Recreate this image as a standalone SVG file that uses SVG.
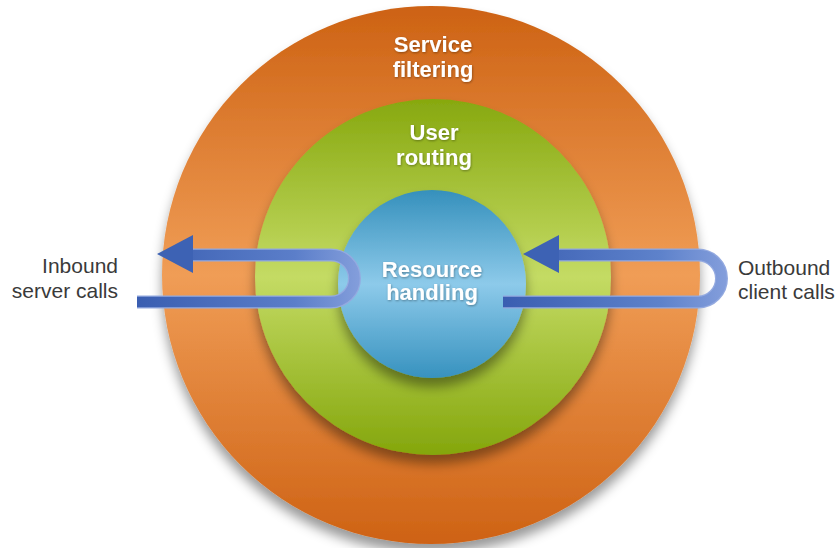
<svg xmlns="http://www.w3.org/2000/svg" width="840" height="548" viewBox="0 0 840 548">
  <defs>
    <linearGradient id="gOrange" x1="0" y1="0" x2="0" y2="1">
      <stop offset="0" stop-color="#CD6213"/>
      <stop offset="0.5" stop-color="#F09D56"/>
      <stop offset="1" stop-color="#CE6214"/>
    </linearGradient>
    <linearGradient id="gGreen" x1="0" y1="0" x2="0" y2="1">
      <stop offset="0" stop-color="#87A80F"/>
      <stop offset="0.5" stop-color="#C4DB64"/>
      <stop offset="1" stop-color="#84A60C"/>
    </linearGradient>
    <linearGradient id="gBlue" x1="0" y1="0" x2="0" y2="1">
      <stop offset="0" stop-color="#3590BC"/>
      <stop offset="0.5" stop-color="#8DCAEA"/>
      <stop offset="1" stop-color="#3792BF"/>
    </linearGradient>
    <linearGradient id="gArrowL" gradientUnits="userSpaceOnUse" x1="137" y1="0" x2="362" y2="0">
      <stop offset="0" stop-color="#3A5EB1"/>
      <stop offset="0.7" stop-color="#5B7EC9"/>
      <stop offset="1" stop-color="#859FDC"/>
    </linearGradient>
    <linearGradient id="gArrowR" gradientUnits="userSpaceOnUse" x1="503" y1="0" x2="729" y2="0">
      <stop offset="0" stop-color="#3A5EB1"/>
      <stop offset="0.7" stop-color="#5E82CB"/>
      <stop offset="1" stop-color="#859FDC"/>
    </linearGradient>
    <filter id="shadow" x="-20%" y="-20%" width="140%" height="150%">
      <feDropShadow dx="0" dy="9" stdDeviation="6" flood-color="#000" flood-opacity="0.4"/>
    </filter>
    <filter id="tshadow" x="-10%" y="-30%" width="120%" height="160%">
      <feDropShadow dx="0.6" dy="1" stdDeviation="0.8" flood-color="#000" flood-opacity="0.35"/>
    </filter>
  </defs>
  <style>
    .title { font-family: "Liberation Sans", Arial, sans-serif; font-weight: bold; font-size: 22px; fill: #ffffff; text-anchor: middle; }
    .label { font-family: "Liberation Sans", Arial, sans-serif; font-size: 21px; fill: #3a3a3a; }
    .band-edge { fill: none; stroke: #94AAE0; stroke-width: 13; }
    .head { fill: #3D62B4; }
  </style>

  <g id="node-service-filtering">
    <circle cx="431" cy="275" r="269" fill="url(#gOrange)" filter="url(#shadow)"/>
    <text class="title" x="433" y="52" filter="url(#tshadow)">Service</text>
    <text class="title" x="433" y="77" filter="url(#tshadow)">filtering</text>
  </g>

  <g id="node-user-routing">
    <circle cx="433" cy="277" r="178" fill="url(#gGreen)" filter="url(#shadow)"/>
    <text class="title" x="434" y="140" filter="url(#tshadow)">User</text>
    <text class="title" x="434" y="165" filter="url(#tshadow)">routing</text>
  </g>

  <g id="node-resource-handling">
    <circle cx="432" cy="284" r="94" fill="url(#gBlue)" filter="url(#shadow)"/>
    <text class="title" x="432" y="277" filter="url(#tshadow)">Resource</text>
    <text class="title" x="432" y="300" filter="url(#tshadow)">handling</text>
  </g>

  <g id="connectors">
    <g id="inbound-server-calls">
      <path class="band-edge" d="M137,302 H331 A23.5,23.5 0 0 0 331,255 H190"/>
      <path d="M137,302 H331 A23.5,23.5 0 0 0 331,255 H190" fill="none" stroke="url(#gArrowL)" stroke-width="10.5"/>
      <polygon class="head" points="157,254 193,235 193,273"/>
    </g>
    <g id="outbound-client-calls">
      <path class="band-edge" d="M503,302 H698 A23.5,23.5 0 0 0 698,255 H556"/>
      <path d="M503,302 H698 A23.5,23.5 0 0 0 698,255 H556" fill="none" stroke="url(#gArrowR)" stroke-width="10.5"/>
      <polygon class="head" points="523,254 559,235 559,273"/>
    </g>
  </g>

  <g id="label-inbound">
    <text class="label" x="118" y="273" text-anchor="end">Inbound</text>
    <text class="label" x="118" y="298" text-anchor="end">server calls</text>
  </g>
  <g id="label-outbound">
    <text class="label" x="738" y="275">Outbound</text>
    <text class="label" x="738" y="299">client calls</text>
  </g>
</svg>
